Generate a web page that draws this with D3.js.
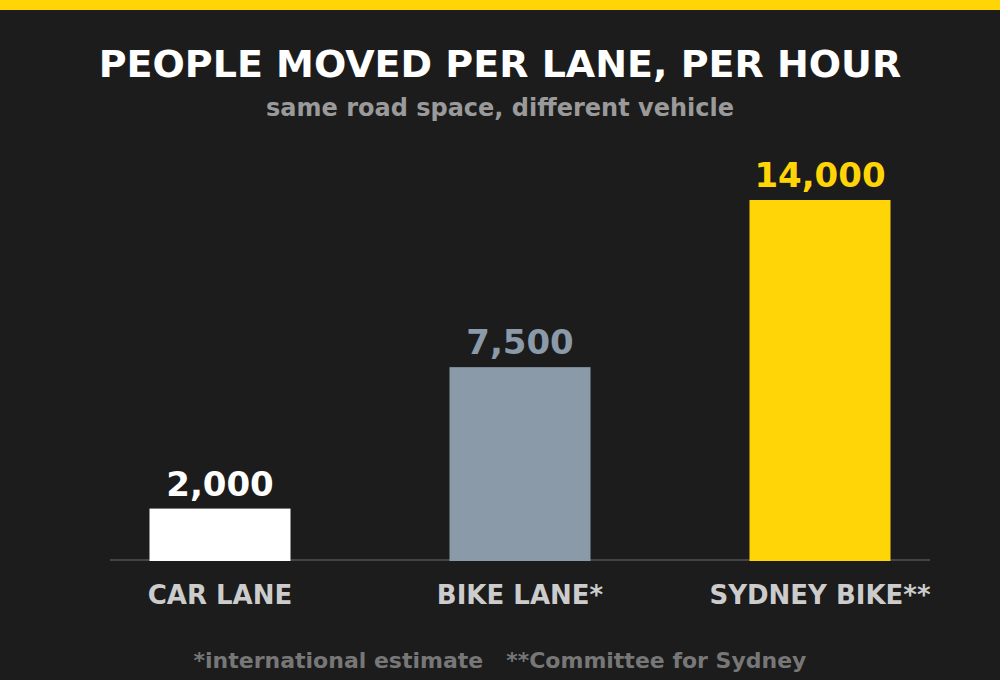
<!DOCTYPE html>
<html lang="en">
<head>
  <meta charset="UTF-8">
  <title>People moved per lane, per hour</title>
  <style>
    html, body { margin: 0; padding: 0; background: #1c1c1c; }
    svg { display: block; font-family: "DejaVu Sans", sans-serif; font-weight: bold; }
  </style>
</head>
<body>
  <div id="chart"></div>

  <script src="https://d3js.org/d3.v7.min.js"></script>
  <script>
    // Chart data
    const categories = ["CAR LANE", "BIKE LANE*", "SYDNEY BIKE**"];
    const values = [2000, 7500, 14000];
    const valueLabels = ["2,000", "7,500", "14,000"];
    const barColors = ["#ffffff", "#8a9aa9", "#ffd508"];

    const width = 1000, height = 680;
    const baseY = 560, topY = 200;

    const svg = d3.select("#chart").append("svg")
                  .attr("width", width)
                  .attr("height", height);

    svg.append("rect")
       .attr("width", width).attr("height", height)
       .attr("fill", "#1c1c1c");

    // yellow strip at the top
    svg.append("rect")
       .attr("width", width).attr("height", 10)
       .attr("fill", "#ffd508");

    // Titles
    svg.append("text")
       .attr("x", width / 2).attr("y", 77)
       .attr("text-anchor", "middle")
       .attr("font-size", 38)
       .attr("fill", "#ffffff")
       .text("PEOPLE MOVED PER LANE, PER HOUR");

    svg.append("text")
       .attr("x", width / 2).attr("y", 116)
       .attr("text-anchor", "middle")
       .attr("font-size", 24)
       .attr("fill", "#9a9a9a")
       .text("same road space, different vehicle");

    // Scales
    const x = d3.scaleBand()
                .domain(categories)
                .range([70, 970])
                .paddingInner(0.53)
                .paddingOuter(0.265);

    const y = d3.scaleLinear()
                .domain([0, d3.max(values)])
                .range([baseY, topY]);

    // baseline
    svg.append("line")
       .attr("x1", 110).attr("x2", 930)
       .attr("y1", baseY).attr("y2", baseY)
       .attr("stroke", "#444444")
       .attr("stroke-width", 2);

    // Bars
    svg.append("g")
       .selectAll("rect")
       .data(values)
       .enter()
       .append("rect")
       .attr("x", (d, i) => x(categories[i]))
       .attr("y", d => y(d))
       .attr("width", x.bandwidth())
       .attr("height", d => y(0) - y(d) + 1)
       .attr("fill", (d, i) => barColors[i]);

    // Value labels
    svg.append("g")
       .selectAll("text")
       .data(values)
       .enter()
       .append("text")
       .attr("x", (d, i) => x(categories[i]) + x.bandwidth() / 2)
       .attr("y", d => y(d) - 13)
       .attr("text-anchor", "middle")
       .attr("font-size", 34)
       .attr("fill", (d, i) => barColors[i])
       .text((d, i) => valueLabels[i]);

    // Category labels
    svg.append("g")
       .selectAll("text")
       .data(categories)
       .enter()
       .append("text")
       .attr("x", d => x(d) + x.bandwidth() / 2)
       .attr("y", 604)
       .attr("text-anchor", "middle")
       .attr("font-size", 26)
       .attr("fill", "#cccccc")
       .text(d => d);

    // Footnote
    svg.append("text")
       .attr("x", width / 2).attr("y", 668)
       .attr("text-anchor", "middle")
       .attr("font-size", 22)
       .attr("fill", "#777777")
       .attr("xml:space", "preserve")
       .style("white-space", "pre")
       .text("*international estimate   **Committee for Sydney");
  </script>
</body>
</html>
